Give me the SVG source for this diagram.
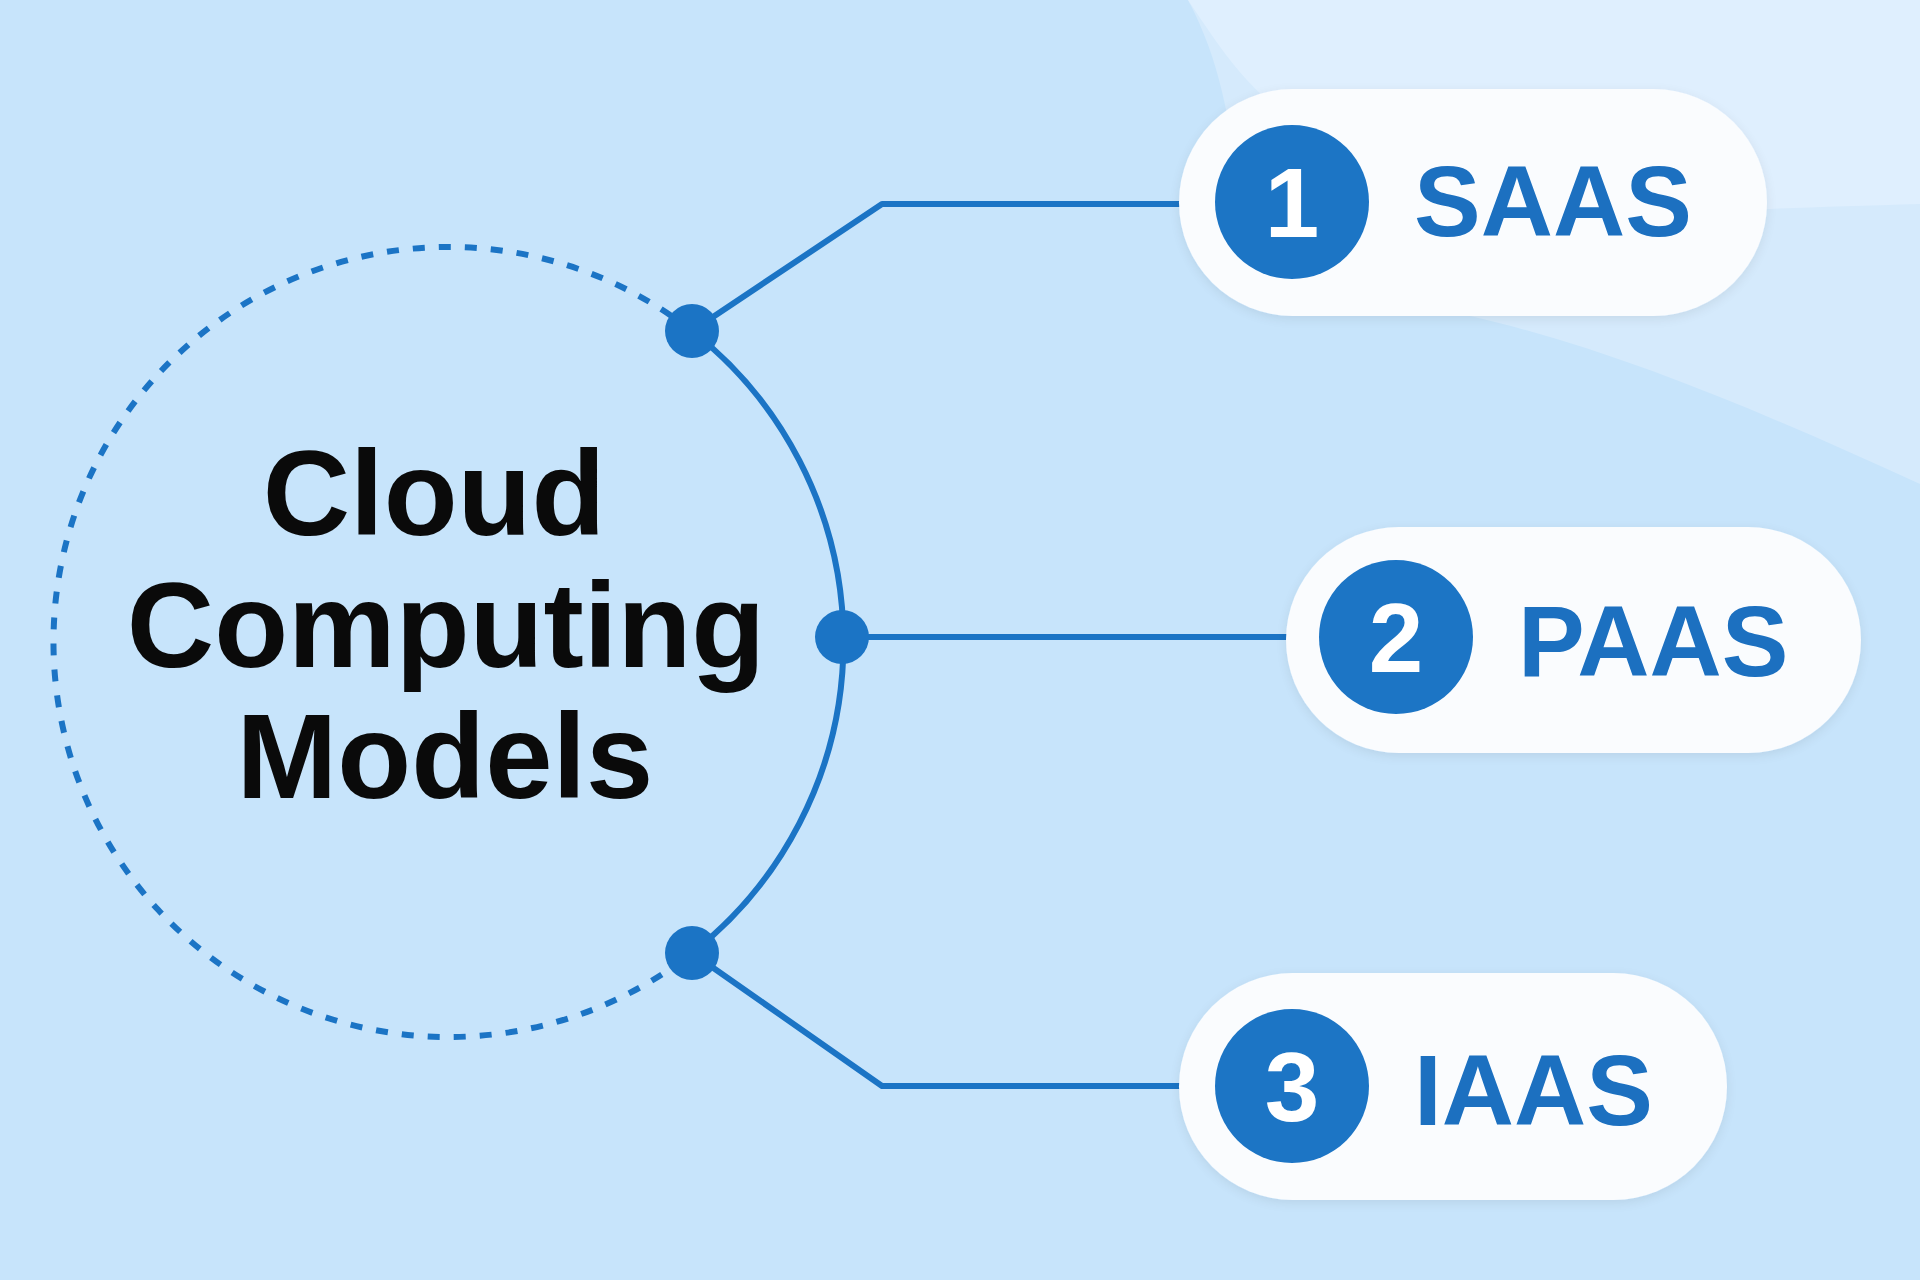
<svg xmlns="http://www.w3.org/2000/svg" width="1920" height="1280" viewBox="0 0 1920 1280">
<style>
.conn{fill:none;stroke:#1B74C5;stroke-width:6;stroke-linecap:round;stroke-linejoin:round}
.dot{fill:#1B74C5}
.pill{fill:#FAFCFE}
.num-bg{fill:#1B74C5}
.num{font-family:"Liberation Sans",Arial,sans-serif;font-weight:bold;font-size:98px;fill:#FFFFFF;text-anchor:middle}
.label{font-family:"Liberation Sans",Arial,sans-serif;font-weight:bold;font-size:100px;fill:#1A6FC0}
.title{font-family:"Liberation Sans",Arial,sans-serif;font-weight:bold;font-size:121px;fill:#0A0A0A;text-anchor:middle}
</style>
<defs>
<filter id="sh" x="-10%" y="-20%" width="120%" height="140%">
<feGaussianBlur in="SourceAlpha" stdDeviation="6"/>
<feOffset dy="3"/>
<feComponentTransfer><feFuncA type="linear" slope="0.08"/></feComponentTransfer>
<feMerge><feMergeNode/><feMergeNode in="SourceGraphic"/></feMerge>
</filter>
</defs>
<rect x="0" y="0" width="1920" height="1280" fill="#C7E4FB"/>
<path d="M1188,0 L1920,0 L1920,484 C1780,420 1620,350 1470,316 C1350,300 1260,280 1240,200 C1230,120 1220,60 1188,0 Z" fill="#D5EAFC"/>
<path d="M1188,0 L1920,0 L1920,204 C1850,206 1790,208 1740,210 L1280,110 C1240,80 1215,40 1188,0 Z" fill="#DFEFFE"/>
<g id="center">
<path d="M692,331 A395,395 0 1,0 692,953" fill="none" stroke="#1B74C5" stroke-width="6" stroke-dasharray="12 14"/>
<text class="title" x="434" y="535">Cloud</text>
<text class="title" x="446" y="667">Computing</text>
<text class="title" x="445" y="798">Models</text>
</g>
<g id="connectors">
<path class="conn" d="M692,331 A395,395 0 0,1 692,953"/>
<path class="conn" d="M692,331 L882,204 L1182,204"/>
<path class="conn" d="M842,637 L1288,637"/>
<path class="conn" d="M692,953 L882,1086 L1182,1086"/>
<circle class="dot" cx="692" cy="331" r="27"/>
<circle class="dot" cx="842" cy="637" r="27"/>
<circle class="dot" cx="692" cy="953" r="27"/>
</g>
<g id="saas" filter="url(#sh)">
<rect class="pill" x="1179" y="89" width="588" height="227" rx="113.5"/>
<circle class="num-bg" cx="1292" cy="202" r="77"/>
<text class="num" x="1292" y="237">1</text>
<text class="label" x="1414" y="236">SAAS</text>
</g>
<g id="paas" filter="url(#sh)">
<rect class="pill" x="1286" y="527" width="575" height="226" rx="113"/>
<circle class="num-bg" cx="1396" cy="637" r="77"/>
<text class="num" x="1396" y="672">2</text>
<text class="label" x="1518" y="676">PAAS</text>
</g>
<g id="iaas" filter="url(#sh)">
<rect class="pill" x="1179" y="973" width="548" height="227" rx="113.5"/>
<circle class="num-bg" cx="1292" cy="1086" r="77"/>
<text class="num" x="1292" y="1121">3</text>
<text class="label" x="1414" y="1125">IAAS</text>
</g>
</svg>
